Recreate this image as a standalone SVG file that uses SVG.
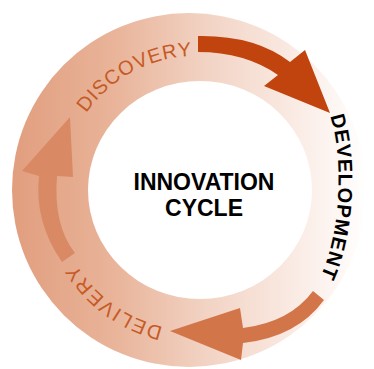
<svg xmlns="http://www.w3.org/2000/svg" width="374" height="369" viewBox="0 0 374 369">
<defs>
<linearGradient id="ringGrad" x1="12" y1="0" x2="366" y2="0" gradientUnits="userSpaceOnUse">
<stop offset="0" stop-color="#e19e7e"/>
<stop offset="0.3" stop-color="#e9b59b"/>
<stop offset="0.55" stop-color="#f2d3c4"/>
<stop offset="0.8" stop-color="#faebe4"/>
<stop offset="1" stop-color="#ffffff"/>
</linearGradient>
<path id="pDiscovery" d="M86.2,113.1 A134,134 0 0 1 263,74"/>
<path id="pDevelopment" d="M330,116 C343,152 343,236 317,283"/>
<path id="pDelivery" d="M163.1,327.1 A141,141 0 0 1 73.9,260.5"/>
</defs>
<style>
.label{font-family:"Liberation Sans",Arial,sans-serif;font-size:20px;fill:#c65a24}
.dev{font-family:"Liberation Sans",Arial,sans-serif;font-size:20px;font-weight:bold;fill:#000}
.center{font-family:"Liberation Sans",Arial,sans-serif;font-size:23px;font-weight:bold;fill:#000;text-anchor:middle}
</style>
<rect width="374" height="369" fill="#fff"/>
<g id="ring">
<ellipse cx="189" cy="190" rx="177" ry="177" fill="url(#ringGrad)"/>
<ellipse cx="200" cy="190" rx="112" ry="109" fill="#fff"/>
</g>
<g id="connectors">
<path d="M198,36 Q255,35 290,62 L305,50 L330,113 L264,86 L278,75 Q245,52 198,52 Z" fill="#c1440e"/>
<path d="M313,291 L324,300 Q297,337 243,343 L241,360 L170,331 L240,308 L243,328 Q290,322 313,291 Z" fill="#d27548"/>
<path d="M70,117 L73,177 L57,176 Q53,225 75,253 L62,262 Q34,222 39,176 L22,171 Z" fill="#d98a65"/>
</g>
<g id="discovery">
<text class="label"><textPath href="#pDiscovery" textLength="124" lengthAdjust="spacing">DISCOVERY</textPath></text>
</g>
<g id="development">
<text class="dev"><textPath href="#pDevelopment" textLength="163" lengthAdjust="spacing">DEVELOPMENT</textPath></text>
</g>
<g id="delivery">
<text class="label"><textPath href="#pDelivery" textLength="110" lengthAdjust="spacing">DELIVERY</textPath></text>
</g>
<g id="center">
<text class="center" x="204" y="190">INNOVATION</text>
<text class="center" x="204" y="216">CYCLE</text>
</g>
</svg>
